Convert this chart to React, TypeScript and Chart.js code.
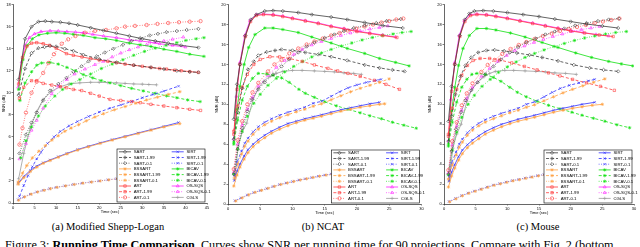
import React, { useEffect, useRef } from 'react';
import { Chart, registerables } from 'chart.js';
import { drawPoint } from 'chart.js/helpers';

Chart.register(...registerables);

type P = [number, number][];

// ---- series names (legend order, column-major) ----
const NAMES = ['SART', 'SART-1.99', 'SART-0.1', 'BSSART', 'BSSART-1.99', 'BSSART-0.1', 'ART', 'ART-1.99', 'ART-0.1',
  'SIRT', 'SIRT-1.99', 'SIRT-0.1', 'BICAV', 'BICAV-1.99', 'BICAV-0.1', 'OS-SQS', 'OS-SQS-0.1', 'CGLS'];

// ---- axis ticks ----
const X_TICKS_A = [0, 5, 10, 15, 20, 25, 30, 35, 40, 45];
const X_TICKS_BC = [0, 5, 10, 15, 20, 25, 30];
const Y_TICKS_A = [0, 2, 4, 6, 8, 10, 12, 14, 16, 18];
const Y_TICKS_BC = [0, 2, 4, 6, 8, 10, 12, 14, 16, 18, 20];

// ================= (a) Modified Shepp-Logan =================
const A_SART: P = [[1.3,11.2],[2.8,14.9],[4.3,16.0],[5.9,16.45],[7.5,16.5],[9,16.45],[11,16.4],[13,16.3],[15,16.15],[18,15.9],[21,15.65],[24,15.4],[27,15.15],[30,14.9],[33,14.7],[36,14.5],[39,14.3],[43,14.1]];
const A_SART199: P = [[1.3,9.8],[2.8,12.2],[4.3,13.6],[5.9,14.05],[7.3,14.15],[8.6,14.25],[10,14.2],[12,14.0],[14,13.8],[16.3,13.45],[20,13.05],[24,12.75],[28,12.5],[32,12.3],[35,12.15],[38,12.0],[41,11.9],[43,11.85]];
const A_SART01: P = [[1.5,4.5],[3,6.2],[4.3,7.3],[5.5,8.2],[7,9.3],[8.6,10.2],[10.5,10.8],[12.4,11.35],[14,11.9],[15.9,12.4],[17.5,12.85],[19.4,13.3],[21.3,13.65],[23.3,14.0],[25.5,14.35],[27.5,14.7],[29.5,14.95],[31.7,15.2],[33.6,15.35],[35.6,15.5],[38,15.6],[40.3,15.7],[43,15.8]];
const A_BSSART: P = [[1.2,1.7],[2.5,2.3],[4,2.85],[5.5,3.25],[7,3.6],[8.6,3.85],[10.5,4.15],[12.5,4.45],[15,4.8],[17.5,5.1],[20.2,5.4],[23,5.7],[26,6.0],[29,6.3],[32,6.6],[35,6.9],[38.7,7.2]];
const A_BSSART199: P = [[1.2,1.9],[2.2,2.7],[3.2,3.4],[4.5,4.1],[6,4.7],[7.5,5.2],[9,5.7],[10.5,6.1],[12,6.5],[13.5,6.8],[15.2,7.1],[17,7.45],[19,7.8],[21,8.1],[23.5,8.45],[26,8.75],[28.5,9.05],[31,9.35],[33.5,9.6],[36,9.85],[38.7,10.1]];
const A_BSSART01: P = [[1.3,0.25],[2.7,0.55],[4.2,0.8],[5.7,1.0],[7.2,1.15],[8.7,1.3],[10.2,1.42],[12.2,1.55],[14.2,1.68],[16.2,1.8],[18.2,1.9],[20.2,2.0],[22.2,2.1],[24.2,2.2],[27.2,2.35],[30.2,2.5],[33.2,2.62],[36.2,2.75],[38.7,2.85]];
const A_ART: P = [[1.3,10.8],[2.2,13.2],[3.2,14.2],[4.3,14.5],[5.5,14.55],[7,14.45],[8.5,14.3],[10,14.05],[12.4,13.55],[14,13.4],[16,13.25],[18,13.1],[20,12.97],[22,12.85],[24,12.72],[26,12.6],[28,12.5],[30,12.4],[32,12.3],[34,12.2],[35.6,12.15],[37.5,12.05],[39,12.0],[41,11.92],[43,11.85]];
const A_ART199: P = [[1.5,9.5],[2.5,10.5],[4.3,11.1],[5.5,11.1],[7,10.85],[9,10.7],[11,10.55],[12.4,10.46],[14,10.3],[15.9,10.2],[18,9.95],[20,9.7],[22.5,9.4],[25,9.3],[27.5,9.2],[29.5,9.1],[32,8.95],[35,8.8],[38,8.65],[41,8.5],[43.5,8.4]];
const A_ART01: P = [[1.5,5.3],[2.2,6.8],[3,8.2],[4.3,10.0],[5.5,11.0],[7,11.8],[8.2,12.7],[9.5,13.5],[11.3,14.45],[12.8,14.85],[14.5,15.15],[16.7,15.45],[19,15.6],[21.6,15.7],[24,15.85],[26,16.0],[28.3,16.07],[31,16.15],[33.5,16.25],[36,16.33],[38.5,16.4],[41,16.45],[43.5,16.5]];
const A_SIRT: P = [[1.2,1.8],[2.5,2.4],[4,2.95],[5.5,3.35],[7,3.65],[8.6,3.9],[10.5,4.2],[12.5,4.5],[15,4.85],[17.5,5.15],[20.2,5.45],[23,5.75],[26,6.05],[29,6.35],[32,6.65],[35,6.95],[38.4,7.3]];
const A_SIRT199: P = [[1.5,0.6],[2.5,1.6],[3.5,2.5],[4.5,3.3],[5.5,4.0],[6.5,4.6],[8,5.4],[9.5,6.0],[11,6.5],[13,7.0],[15,7.4],[17.5,7.85],[20,8.25],[22.5,8.6],[25,8.9],[27.5,9.2],[30,9.55],[32.5,9.85],[35,10.15],[38.4,10.6]];
const A_SIRT01: P = [[1.2,0.3],[2.5,0.55],[4,0.8],[5.5,1.0],[7,1.15],[8.5,1.3],[10,1.42],[12,1.55],[14,1.68],[16,1.8],[18,1.9],[20,2.0],[22,2.1],[24,2.2],[27,2.35],[30,2.5],[33,2.62],[36,2.75],[38.5,2.85]];
const A_BICAV: P = [[1.3,10.3],[2.3,13.0],[3.3,14.3],[4.5,14.9],[6,15.25],[8,15.4],[10,15.45],[12,15.4],[14,15.3],[16.3,15.2],[19,15.0],[21.5,14.9],[24,14.75],[27,14.5],[29.5,14.35],[32,14.2],[35,13.95],[38,13.75],[41,13.5],[44.3,13.3]];
const A_BICAV199: P = [[1.6,9.3],[2.8,10.9],[4.3,11.9],[5.5,12.5],[6.6,12.7],[8.6,12.75],[10.5,12.6],[12.5,12.3],[14.5,12.0],[16.3,11.65],[18.5,11.35],[20.5,11.1],[22.5,10.9],[25,10.65],[27.5,10.4],[30.2,10.17],[33,9.95],[35.6,9.72],[38,9.55],[40.5,9.35],[43.4,9.2]];
const A_BICAV01: P = [[1.8,4.1],[3,5.65],[4.3,6.9],[5.9,7.9],[7.5,8.8],[9.7,9.7],[11.5,10.3],[13.5,10.8],[15.5,11.2],[18,11.7],[20.5,12.2],[23,12.6],[25.5,13.0],[28,13.4],[30.5,13.75],[33,14.05],[35.5,14.3],[38,14.55],[40.1,14.75],[42.5,14.9],[44.3,15.0]];
const A_OSSQS: P = [[1.2,10.5],[2,12.8],[2.8,14.3],[3.8,15.0],[5,15.35],[6.5,15.55],[8.6,15.62],[10.5,15.6],[12.5,15.55],[14.5,15.5],[16.3,15.45],[18.5,15.3],[21,15.15],[24,15.0],[27,14.8],[29.5,14.7],[31.7,14.6],[34,14.45],[37,14.3],[40,14.15]];
const A_OSSQS01: P = [[1.5,4.0],[3,5.4],[4.3,6.6],[5.5,7.5],[7,8.6],[9,9.9],[10.5,10.6],[12.5,11.2],[14.3,11.7],[16.7,12.15],[19,12.55],[21,12.85],[23,13.25],[25,13.6],[27,13.9],[29,14.15],[31,14.35],[33,14.55],[35,14.7],[37,14.85],[39.5,15.05]];
const A_CGLS: P = [[1.3,2.2],[2.5,4.5],[4,6.8],[5.5,8.3],[7,9.4],[9,10.15],[11,10.55],[13,10.8],[15.5,10.9],[18,10.95],[20,10.95],[22,10.92],[24,10.9],[26,10.85],[28,10.8],[30,10.78],[31.5,10.75],[33.3,10.72]];

// ================= (b) NCAT =================
const B_SART: P = [[0.9,8.5],[1.4,12.0],[1.85,14.0],[2.7,16.9],[3.55,18.5],[4.4,19.0],[5.7,19.35],[7,19.4],[8.5,19.35],[10.9,19.2],[13,19.0],[16,18.75],[18.5,18.5],[21.2,18.2],[24,17.9],[27.1,17.65]];
const B_SART199: P = [[0.9,6.5],[1.5,9.2],[2.2,11.6],[3.1,13.5],[4,14.3],[4.7,14.9],[6,15.25],[7.3,15.4],[8.3,15.5],[10,15.4],[12,15.2],[14,15.0],[16,14.77],[18.5,14.4],[21.2,13.95],[23.5,13.65],[25.5,13.45],[27.4,13.3]];
const B_SART01: P = [[0.9,3.0],[1.5,5.5],[2.2,7.6],[3,9.3],[3.7,10.5],[4.7,11.5],[5.7,12.2],[7,13.0],[8.3,13.8],[9.5,14.5],[10.9,15.2],[12.2,15.8],[13.4,16.2],[15,16.65],[16.5,17.0],[18,17.35],[19.5,17.65],[21.2,17.9],[23,18.15],[24.6,18.35],[26.8,18.55]];
const B_BSSART: P = [[0.9,1.8],[1.4,2.9],[1.85,3.7],[2.5,4.5],[3.1,5.15],[3.9,5.75],[4.7,6.2],[5.7,6.65],[6.75,7.1],[8,7.5],[9.3,7.85],[10.6,8.15],[11.9,8.4],[13.2,8.6],[14.5,8.8],[16,9.05],[17.5,9.3],[19,9.5],[20.5,9.7],[22,9.85],[23.5,10.0],[24.3,10.05]];
const B_BSSART199: P = [[1.0,2.6],[1.5,4.0],[2.1,5.0],[2.6,5.8],[3.1,6.3],[3.9,7.0],[4.7,7.5],[5.7,7.95],[6.75,8.3],[8,8.65],[9.3,8.95],[10.6,9.25],[11.9,9.5],[13.2,9.8],[14.5,10.05],[16,10.45],[17.5,10.85],[19,11.25],[20.5,11.6],[22,11.9],[23.5,12.2],[25,12.55]];
const B_BSSART01: P = [[1.2,0.3],[2.2,0.62],[3.2,0.92],[4.2,1.17],[5.2,1.37],[6.2,1.57],[7.2,1.77],[8.2,1.96],[9.2,2.11],[10.2,2.26],[11.2,2.41],[12.2,2.53],[13.2,2.66],[14.2,2.79],[15.2,2.9],[16.2,3.0],[17.2,3.1],[18.2,3.2],[19.2,3.3],[20.2,3.38],[21.2,3.46],[22.2,3.54],[23.2,3.6]];
const B_ART: P = [[0.9,7.0],[1.4,11.5],[1.85,14.0],[2.7,16.8],[3.5,18.3],[4.4,18.9],[5.5,19.0],[7,18.95],[8.5,18.8],[10,18.6],[12,18.35],[14,18.1],[16,17.8],[18,17.55],[20,17.3],[22,17.1],[24,16.9],[26.2,16.7]];
const B_ART199: P = [[0.9,7.3],[1.5,9.8],[2.2,11.7],[3,13.0],[4,14.0],[5,14.5],[6.5,14.77],[8,14.75],[9.5,14.6],[11.5,14.3],[13.4,13.95],[15.5,13.6],[17,13.35],[18.6,13.1],[20.5,12.8],[22.7,12.4],[24.5,12.0],[26.6,11.5]];
const B_ART01: P = [[0.9,3.5],[1.5,6.4],[2.2,8.3],[3,10.0],[3.8,11.2],[4.7,12.15],[6.2,13.3],[7.2,14.0],[8.3,14.45],[9.5,15.1],[10.9,15.6],[12.2,16.0],[13.4,16.3],[14.7,16.6],[16,16.9],[17.3,17.15],[18.6,17.4],[19.9,17.6],[21.2,17.8],[22.5,18.0],[23.8,18.2],[25,18.35],[26.1,18.5],[27.2,18.6]];
const B_SIRT: P = [[0.97,2.35],[1.4,3.3],[1.85,4.0],[2.5,4.8],[3.1,5.45],[3.9,6.0],[4.7,6.45],[5.7,6.9],[6.75,7.3],[8,7.7],[9.3,8.07],[10.6,8.3],[11.9,8.55],[13.2,8.75],[14.5,8.95],[16,9.2],[17.5,9.45],[19,9.65],[20.5,9.85],[22,10.05],[23.5,10.2]];
const B_SIRT199: P = [[1.0,2.8],[1.4,4.2],[2.1,5.3],[2.6,6.1],[3.1,6.6],[3.9,7.25],[4.7,7.75],[5.7,8.2],[6.75,8.55],[8,8.9],[9.3,9.2],[10.6,9.45],[11.9,9.7],[13.2,10.1],[14.5,10.3],[16,10.8],[17.3,11.25],[18.6,11.65],[20,11.95],[21.5,12.2],[23,12.4],[23.75,12.5]];
const B_SIRT01: P = [[1.08,0.33],[2,0.6],[3,0.9],[4,1.15],[5,1.35],[6,1.55],[7,1.75],[8,1.95],[9,2.1],[10,2.25],[11,2.4],[12,2.52],[13,2.65],[14,2.78],[15,2.9],[16,3.0],[17,3.1],[18,3.2],[19,3.3],[20,3.38],[21,3.46],[22,3.54],[23,3.6]];
const B_BICAV: P = [[0.9,6.2],[1.4,9.5],[1.85,11.8],[2.5,14.0],[3.2,15.7],[4.2,17.0],[5.7,17.65],[7,17.65],[8.5,17.5],[10.9,17.2],[13,16.75],[16,16.15],[18.5,15.6],[21.2,15.1],[23.5,14.6],[26,14.2],[28.1,13.85]];
const B_BICAV199: P = [[0.9,6.0],[1.5,8.4],[2.2,10.4],[3,11.8],[3.8,12.6],[4.7,13.1],[6,13.05],[7,12.9],[8.3,12.65],[9.5,12.2],[11,11.5],[12,11.1],[13.4,10.7],[15,10.25],[16.8,9.85],[18.6,9.5],[20.5,9.15],[22,8.85],[23.8,8.55],[25.5,8.2],[27.3,7.9],[29.2,7.6]];
const B_BICAV01: P = [[0.9,3.0],[1.5,5.5],[2.2,7.3],[3,8.8],[4,10.1],[5,11.0],[6.2,11.9],[7.5,12.6],[8.8,13.25],[10.2,13.8],[11.6,14.3],[13,14.75],[14.5,15.15],[16,15.5],[17.6,15.85],[19.2,16.15],[20.8,16.45],[22.4,16.7],[24,16.9],[25.6,17.05],[27,17.2],[28.4,17.3]];
const B_OSSQS: P = [[0.9,6.5],[1.3,10.8],[1.85,14.2],[2.6,16.9],[3.4,18.4],[4.4,19.0],[5.5,19.05],[7,19.0],[8.5,18.85],[10,18.65],[12,18.4],[14,18.15],[16,17.85],[18,17.6],[20,17.35],[22,17.15],[24,16.95],[26,16.75]];
const B_OSSQS01: P = [[0.9,3.2],[1.5,6.0],[2.2,7.9],[3,9.5],[3.8,10.7],[4.7,11.8],[6.2,12.9],[7.5,13.7],[8.8,14.4],[10.2,15.0],[11.5,15.5],[13,15.95],[14.5,16.3],[16,16.6],[17.5,16.9],[19,17.15],[20.5,17.35],[22,17.55],[23.5,17.7],[24.8,17.85]];
const B_CGLS: P = [[1.0,2.5],[1.6,5.8],[2.2,7.2],[2.9,8.1],[3.9,10.5],[4.7,11.6],[5.5,12.3],[6.5,12.8],[7.5,13.1],[8.5,13.3],[10,13.4],[11.5,13.4],[13.4,13.35],[15,13.3],[16.5,13.25],[18,13.15],[19.5,13.1],[20.7,13.0]];

// ================= (c) Mouse =================
const C_SART: P = [[0.7,8.3],[1.2,11.8],[1.7,14.0],[2.5,16.9],[3.3,18.5],[4.0,19.1],[4.8,19.35],[6.2,19.4],[7.8,19.35],[10,19.2],[12.5,19.0],[15,18.8],[17.5,18.55],[20,18.3],[22.5,18.05],[25,17.85],[27.5,17.65]];
const C_SART199: P = [[0.7,6.3],[1.2,8.8],[1.8,11.0],[2.6,12.8],[3.4,13.9],[4.3,14.7],[5.4,15.2],[6.7,15.4],[8,15.45],[9.5,15.35],[11.5,15.15],[13.5,14.95],[15.5,14.7],[18,14.35],[20.5,13.95],[23,13.65],[25.2,13.45],[27.5,13.3]];
const C_SART01: P = [[0.7,3.0],[1.2,5.3],[1.9,7.5],[2.7,9.2],[3.4,10.4],[4.3,11.4],[5.3,12.2],[6.5,13.0],[7.8,13.8],[9,14.5],[10.4,15.2],[11.7,15.75],[13,16.2],[14.5,16.6],[16,17.0],[17.5,17.3],[19,17.6],[20.7,17.9],[22.5,18.15],[24.3,18.35],[26,18.5],[27.6,18.6]];
const C_BSSART: P = [[0.7,1.7],[1.2,2.8],[1.7,3.6],[2.3,4.4],[2.9,5.05],[3.7,5.65],[4.5,6.1],[5.5,6.55],[6.5,7.0],[7.8,7.4],[9.1,7.75],[10.4,8.05],[11.7,8.3],[13,8.5],[14.3,8.7],[15.8,8.95],[17.3,9.2],[18.8,9.4],[20.3,9.6],[21.8,9.75],[23.4,9.9],[25,10.0]];
const C_BSSART199: P = [[0.7,2.5],[1.3,3.9],[1.9,4.9],[2.4,5.7],[2.9,6.2],[3.7,6.9],[4.5,7.4],[5.5,7.85],[6.5,8.2],[7.8,8.55],[9.1,8.85],[10.4,9.15],[11.7,9.4],[13,9.7],[14.3,9.95],[15.8,10.35],[17.3,10.75],[18.8,11.15],[20.3,11.5],[21.9,11.85],[23.6,12.2],[25.4,12.55]];
const C_BSSART01: P = [[0.9,0.22],[1.9,0.52],[2.9,0.82],[3.9,1.07],[4.9,1.27],[5.9,1.47],[6.9,1.67],[7.9,1.87],[8.9,2.02],[9.9,2.17],[10.9,2.32],[11.9,2.44],[12.9,2.57],[13.9,2.69],[14.9,2.82],[15.9,2.92],[16.9,3.02],[17.9,3.12],[18.9,3.22],[19.9,3.3],[20.9,3.38],[21.9,3.46],[22.9,3.53],[23.9,3.59]];
const C_ART: P = [[0.7,6.8],[1.2,11.3],[1.7,14.0],[2.5,16.8],[3.3,18.3],[4.2,18.9],[5.2,19.0],[6.7,18.95],[8.2,18.8],[10,18.6],[12,18.35],[14,18.1],[16,17.85],[18,17.6],[20,17.35],[22.2,17.15],[24.5,16.95],[26.7,16.8]];
const C_ART199: P = [[0.7,7.0],[1.3,9.6],[2,11.5],[2.8,12.9],[3.7,13.9],[4.6,14.4],[5.7,14.6],[7.2,14.6],[8.8,14.45],[10.7,14.15],[12.7,13.8],[14.7,13.45],[16.5,13.15],[18.3,12.85],[20.3,12.5],[22.5,12.15],[24.7,11.8],[26.9,11.4]];
const C_ART01: P = [[0.7,3.4],[1.3,6.3],[2,8.2],[2.8,9.9],[3.6,11.1],[4.5,12.1],[5.9,13.25],[6.9,13.95],[8,14.45],[9.2,15.05],[10.5,15.55],[11.8,15.95],[13,16.25],[14.3,16.55],[15.6,16.85],[17,17.1],[18.3,17.35],[19.7,17.55],[21,17.75],[22.4,17.95],[23.8,18.15],[25.1,18.3],[26.4,18.45],[27.7,18.6]];
const C_SIRT: P = [[0.8,2.3],[1.2,3.2],[1.7,3.95],[2.3,4.75],[2.9,5.4],[3.7,5.95],[4.5,6.4],[5.5,6.85],[6.5,7.25],[7.8,7.65],[9.1,8.0],[10.4,8.25],[11.7,8.5],[13,8.7],[14.3,8.9],[15.8,9.15],[17.3,9.4],[18.8,9.6],[20.3,9.8],[21.8,10.0],[23.8,10.2]];
const C_SIRT199: P = [[0.8,2.7],[1.2,4.1],[1.9,5.2],[2.4,6.0],[2.9,6.5],[3.7,7.15],[4.5,7.65],[5.5,8.1],[6.5,8.45],[7.8,8.8],[9.1,9.1],[10.4,9.35],[11.7,9.6],[13,10.0],[14.3,10.25],[15.8,10.75],[17.1,11.2],[18.4,11.6],[19.8,11.9],[21.3,12.15],[22.8,12.35],[23.8,12.5]];
const C_SIRT01: P = [[0.8,0.25],[1.8,0.55],[2.8,0.85],[3.8,1.1],[4.8,1.3],[5.8,1.5],[6.8,1.7],[7.8,1.9],[8.8,2.05],[9.8,2.2],[10.8,2.35],[11.8,2.47],[12.8,2.6],[13.8,2.72],[14.8,2.85],[15.8,2.95],[16.8,3.05],[17.8,3.15],[18.8,3.25],[19.8,3.33],[20.8,3.41],[21.8,3.49],[22.8,3.56],[23.8,3.62]];
const C_BICAV: P = [[0.7,6.0],[1.2,9.3],[1.7,11.7],[2.3,13.9],[3,15.6],[4,16.9],[5.2,17.6],[6.7,17.6],[8.2,17.45],[10.5,17.15],[12.8,16.75],[15.5,16.2],[18,15.7],[20.8,15.15],[23.3,14.7],[26,14.3],[28,14.05],[29.8,13.85]];
const C_BICAV199: P = [[0.7,5.8],[1.3,8.2],[2,10.2],[2.8,11.7],[3.6,12.5],[4.4,13.0],[5.2,13.1],[6.5,13.0],[7.8,12.7],[9,12.3],[10.4,11.7],[11.6,11.2],[13,10.75],[14.7,10.3],[16.5,9.9],[18.3,9.55],[20.2,9.2],[21.8,8.9],[23.6,8.6],[25.4,8.3],[27.3,7.95],[29.3,7.65]];
const C_BICAV01: P = [[0.7,2.9],[1.3,5.4],[2,7.2],[2.8,8.7],[3.8,10.0],[4.8,10.9],[6,11.8],[7.3,12.5],[8.6,13.2],[10,13.75],[11.4,14.25],[12.8,14.7],[14.3,15.1],[15.8,15.45],[17.4,15.8],[19,16.1],[20.6,16.4],[22.2,16.65],[23.8,16.85],[25.5,17.05],[27.1,17.2],[28.8,17.3]];
const C_OSSQS: P = [[0.7,6.3],[1.1,10.5],[1.7,14.2],[2.4,16.9],[3.2,18.4],[4.1,19.0],[5.2,19.05],[6.7,19.0],[8.2,18.85],[10,18.65],[12,18.4],[14,18.15],[16,17.9],[18,17.65],[20,17.4],[22,17.2],[24,17.0],[26,16.85]];
const C_OSSQS01: P = [[0.7,3.1],[1.3,5.9],[2,7.8],[2.8,9.4],[3.6,10.6],[4.5,11.7],[5.9,12.8],[7.2,13.6],[8.5,14.3],[9.9,14.9],[11.2,15.4],[12.7,15.85],[14.2,16.2],[15.7,16.5],[17.2,16.8],[18.7,17.05],[20.2,17.3],[21.7,17.5],[23.2,17.65],[24.6,17.8]];
const C_CGLS: P = [[0.8,2.3],[1.4,5.6],[2.0,7.0],[2.7,8.0],[3.6,10.3],[4.4,11.5],[5.3,12.2],[6.3,12.75],[7.2,13.1],[8.1,13.3],[9.6,13.4],[11,13.4],[12.8,13.35],[14.5,13.3],[16,13.25],[17.5,13.15],[19.2,13.1],[20.9,13.0]];

const SERIES_A = [A_SART, A_SART199, A_SART01, A_BSSART, A_BSSART199, A_BSSART01, A_ART, A_ART199, A_ART01, A_SIRT, A_SIRT199, A_SIRT01, A_BICAV, A_BICAV199, A_BICAV01, A_OSSQS, A_OSSQS01, A_CGLS];
const SERIES_B = [B_SART, B_SART199, B_SART01, B_BSSART, B_BSSART199, B_BSSART01, B_ART, B_ART199, B_ART01, B_SIRT, B_SIRT199, B_SIRT01, B_BICAV, B_BICAV199, B_BICAV01, B_OSSQS, B_OSSQS01, B_CGLS];
const SERIES_C = [C_SART, C_SART199, C_SART01, C_BSSART, C_BSSART199, C_BSSART01, C_ART, C_ART199, C_ART01, C_SIRT, C_SIRT199, C_SIRT01, C_BICAV, C_BICAV199, C_BICAV01, C_OSSQS, C_OSSQS01, C_CGLS];

// ---- styles (not data) ----
const K = '#3c3c3c', BL = '#2f2fff', OR = '#ffa040', RD = '#ff3b3b', GR = '#10e010', MG = '#ff22ff', GY = '#9a9a9a';
const SOLID: number[] = [], DASH = [3, 2], DOT = [0.8, 1.6];
const STYLES: { c: string; d: number[]; p: string }[] = [
  { c: K, d: SOLID, p: 'rectRot' }, { c: K, d: DASH, p: 'rectRot' }, { c: K, d: DOT, p: 'rectRot' },
  { c: OR, d: SOLID, p: 'star' }, { c: OR, d: DASH, p: 'star' }, { c: OR, d: DOT, p: 'star' },
  { c: RD, d: SOLID, p: 'rect' }, { c: RD, d: DASH, p: 'rect' }, { c: RD, d: DOT, p: 'circle' },
  { c: BL, d: SOLID, p: 'crossRot' }, { c: BL, d: DASH, p: 'crossRot' }, { c: BL, d: DOT, p: 'crossRot' },
  { c: GR, d: SOLID, p: 'star' }, { c: GR, d: DASH, p: 'star' }, { c: GR, d: DOT, p: 'star' },
  { c: MG, d: SOLID, p: 'triangle' }, { c: MG, d: DOT, p: 'triangle' },
  { c: GY, d: SOLID, p: 'cross' },
];

const FONT = { family: "'Liberation Sans', Arial, sans-serif", size: 4 };

const legendPlugin = {
  id: 'boxLegend',
  afterDatasetsDraw(chart: any) {
    const { ctx, chartArea } = chart;
    const w = 88, h = 53;
    const x0 = chartArea.right - w - 2, y0 = chartArea.bottom - h - 1;
    ctx.save();
    ctx.fillStyle = '#fff';
    ctx.fillRect(x0, y0, w, h);
    ctx.strokeStyle = '#000';
    ctx.lineWidth = 0.6;
    ctx.setLineDash([]);
    ctx.strokeRect(x0, y0, w, h);
    ctx.font = `4.3px ${FONT.family}`;
    ctx.textBaseline = 'middle';
    ctx.textAlign = 'left';
    NAMES.forEach((name, i) => {
      const st = STYLES[i];
      const col = Math.floor(i / 9), row = i % 9;
      const lx = x0 + 2 + col * 52.7;
      const ly = y0 + 2.8 + row * 5.7;
      ctx.strokeStyle = st.c;
      ctx.lineWidth = 0.8;
      ctx.setLineDash(st.d);
      ctx.beginPath();
      ctx.moveTo(lx, ly);
      ctx.lineTo(lx + 12, ly);
      ctx.stroke();
      ctx.setLineDash([]);
      ctx.fillStyle = 'rgba(0,0,0,0)';
      ctx.lineWidth = 0.6;
      drawPoint(ctx, { pointStyle: st.p as any, radius: 1.7, borderWidth: 0.6, rotation: 0 }, lx + 6, ly);
      ctx.fillStyle = '#000';
      ctx.fillText(name, lx + 14.7, ly + 0.2);
    });
    ctx.restore();
  },
};

type PanelProps = {
  left: number; width: number; height: number; yw: number; pr: number; xh: number;
  xmax: number; ymax: number; series: P[]; xticks: number[]; yticks: number[];
};

function Panel(props: PanelProps) {
  const ref = useRef<HTMLCanvasElement>(null);
  useEffect(() => {
    const { yw, pr, xh, xmax, ymax, series, xticks, yticks } = props;
    const datasets = series.map((s, i) => ({
      label: NAMES[i],
      data: s.map(([x, y]) => ({ x, y })),
      borderColor: STYLES[i].c,
      borderDash: STYLES[i].d,
      borderWidth: 0.8,
      pointStyle: STYLES[i].p,
      pointRadius: 1.7,
      pointBorderWidth: 0.6,
      pointBorderColor: STYLES[i].c,
      pointBackgroundColor: 'rgba(0,0,0,0)',
      fill: false,
      tension: 0,
    }));
    const zeroPad = (s: any) => { s.paddingLeft = 0; s.paddingRight = 0; s.paddingTop = 0; s.paddingBottom = 0; };
    const chart = new Chart(ref.current as HTMLCanvasElement, {
      type: 'line',
      data: { datasets } as any,
      plugins: [legendPlugin],
      options: {
        responsive: false,
        animation: false,
        devicePixelRatio: 1,
        layout: { padding: { left: 0, right: pr, top: 0, bottom: 0 } },
        plugins: { legend: { display: false }, tooltip: { enabled: false } },
        scales: {
          x: {
            type: 'linear', min: 0, max: xmax,
            afterBuildTicks: (s: any) => { s.ticks = xticks.map((v) => ({ value: v })); },
            ticks: { font: FONT, color: '#000', padding: 0.5, maxRotation: 0, autoSkip: false },
            grid: { display: true, drawOnChartArea: false, tickLength: 1.5, color: '#000', lineWidth: 0.5 },
            border: { color: '#000', width: 0.6 },
            title: { display: true, text: 'Time (sec)', font: FONT, color: '#000', padding: { top: 0, bottom: 0 } },
            afterFit: (s: any) => { s.height = xh; zeroPad(s); },
          },
          y: {
            type: 'linear', min: 0, max: ymax,
            afterBuildTicks: (s: any) => { s.ticks = yticks.map((v) => ({ value: v })); },
            ticks: { font: FONT, color: '#000', padding: 0.8, autoSkip: false },
            grid: { display: true, drawOnChartArea: false, tickLength: 1.5, color: '#000', lineWidth: 0.5 },
            border: { color: '#000', width: 0.6 },
            title: { display: true, text: 'SNR (dB)', font: FONT, color: '#000', padding: { top: 1, bottom: 0 } },
            afterFit: (s: any) => { s.width = yw; zeroPad(s); },
          },
        },
      } as any,
    });
    return () => chart.destroy();
  }, []);
  return (
    <canvas
      ref={ref}
      width={props.width}
      height={props.height}
      style={{ position: 'absolute', left: props.left, top: 0, width: props.width, height: props.height }}
    />
  );
}

const capStyle: React.CSSProperties = {
  position: 'absolute', top: 221.5, fontFamily: "'Liberation Serif', 'Times New Roman', serif",
  fontSize: 10.5, lineHeight: '10.5px', whiteSpace: 'nowrap', transform: 'translateX(-50%)', color: '#000',
};

export default function App() {
  return (
    <div style={{ position: 'fixed', left: 0, top: 0, width: 640, height: 247, background: '#fff', overflow: 'hidden' }}>
      <Panel left={0} width={213} height={214} yw={13} pr={6} xh={11} xmax={45} ymax={18} series={SERIES_A} xticks={X_TICKS_A} yticks={Y_TICKS_A} />
      <Panel left={213} width={213} height={215} yw={15} pr={4} xh={11} xmax={30} ymax={20} series={SERIES_B} xticks={X_TICKS_BC} yticks={Y_TICKS_BC} />
      <Panel left={426} width={214} height={215} yw={18} pr={6} xh={11} xmax={30} ymax={20} series={SERIES_C} xticks={X_TICKS_BC} yticks={Y_TICKS_BC} />
      <div style={{ ...capStyle, left: 108 }}>(a) Modified Shepp-Logan</div>
      <div style={{ ...capStyle, left: 323 }}>(b) NCAT</div>
      <div style={{ ...capStyle, left: 538 }}>(c) Mouse</div>
      <div style={{
        position: 'absolute', left: 5, top: 238.5, fontFamily: "'Liberation Serif', 'Times New Roman', serif",
        fontSize: 12.2, lineHeight: '12px', whiteSpace: 'nowrap', color: '#000',
      }}>
        Figure 3: <b>Running Time Comparison.</b> Curves show SNR per running time for 90 projections. Compare with Fig. 2 (bottom
      </div>
    </div>
  );
}
